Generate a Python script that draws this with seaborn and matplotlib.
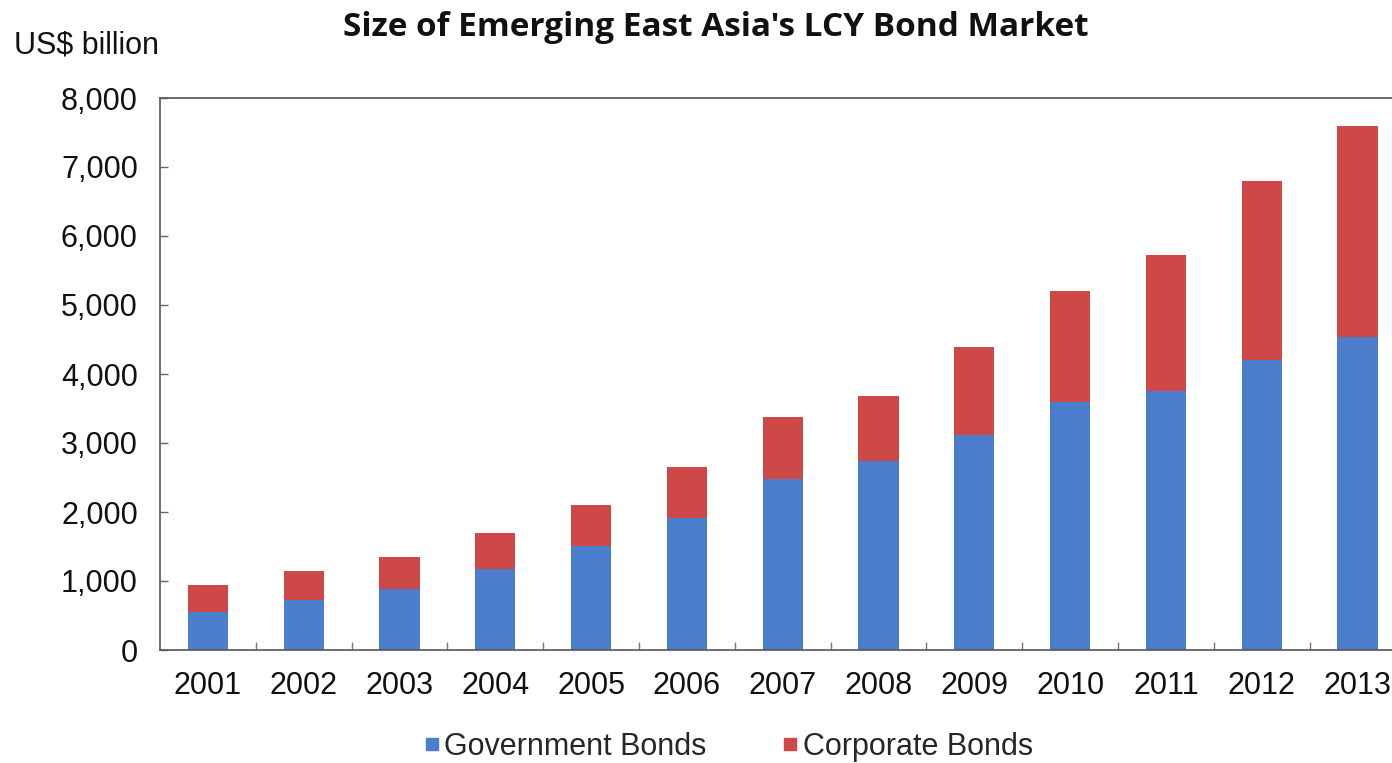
import matplotlib
matplotlib.use("Agg")
import matplotlib.pyplot as plt
from matplotlib.lines import Line2D
from matplotlib.ticker import FuncFormatter, FixedLocator
import seaborn as sns
import pandas as pd
import numpy as np

# Local-currency bond market size, US$ billion
years = ["2001", "2002", "2003", "2004", "2005", "2006", "2007",
         "2008", "2009", "2010", "2011", "2012", "2013"]
government = [550, 725, 888, 1178, 1507, 1918, 2473, 2739, 3110, 3590, 3755, 4200, 4543]
corporate = [390, 425, 455, 522, 593, 739, 909, 942, 1280, 1607, 1970, 2590, 3057]

df = pd.DataFrame({"year": years, "gov": government, "corp": corporate})
df["total"] = df["gov"] + df["corp"]

BLUE = "#4A7ECC"
RED = "#CE4848"

sns.set_theme(style="white")
plt.rcParams["font.family"] = ["Liberation Sans", "DejaVu Sans"]

fig = plt.figure(figsize=(13.92, 7.63), dpi=100)
ax = fig.add_axes([160 / 1392, 1 - 650 / 763, 1 - 160 / 1392, (650 - 98) / 763])

# Stacked bars: full height in red, government share drawn on top in blue
sns.barplot(data=df, x="year", y="total", color=RED, saturation=1,
            width=0.42, ax=ax, linewidth=0)
sns.barplot(data=df, x="year", y="gov", color=BLUE, saturation=1,
            width=0.42, ax=ax, linewidth=0)

ax.set_xlim(-0.5, 12.36)
ax.set_ylim(0, 8000)
ax.set_yticks(np.arange(0, 8001, 1000))
ax.yaxis.set_major_formatter(FuncFormatter(lambda v, p: f"{int(v):,}"))
ax.set_xlabel("")
ax.set_ylabel("")

for side in ["left", "bottom", "top"]:
    ax.spines[side].set_visible(True)
    ax.spines[side].set_color("#555555")
    ax.spines[side].set_linewidth(1.2)
ax.spines["right"].set_visible(False)

ax.tick_params(axis="y", which="major", direction="in", length=6, width=1,
               color="#666666", labelsize=22, pad=16, left=True)
ax.tick_params(axis="x", which="major", length=0, labelsize=22, pad=15)
ax.xaxis.set_minor_locator(FixedLocator(np.arange(0.5, 12, 1.0)))
ax.tick_params(axis="x", which="minor", direction="in", length=6, width=1,
               color="#777777", bottom=True)
for lbl in ax.get_xticklabels() + ax.get_yticklabels():
    lbl.set_color("#111111")

fig.text(716 / 1392, 1 - 28 / 763, "Size of Emerging East Asia's LCY Bond Market",
         ha="center", va="center", fontsize=24, fontweight="bold",
         family=["Open Sans", "DejaVu Sans"], color="#111111")
fig.text(14 / 1392, 1 - 45 / 763, "US$ billion", ha="left", va="center",
         fontsize=22, color="#111111")

handles = [
    Line2D([], [], marker="s", linestyle="none", markersize=9,
           markerfacecolor=BLUE, markeredgecolor=BLUE),
    Line2D([], [], marker="s", linestyle="none", markersize=9,
           markerfacecolor=RED, markeredgecolor=RED),
]
fig.legend(handles, ["Government Bonds", "Corporate Bonds"],
           loc="center", bbox_to_anchor=(727 / 1392, 1 - 747 / 763),
           ncol=2, frameon=False, fontsize=22, handletextpad=0.05,
           columnspacing=2.4, handlelength=0.7)

fig.savefig("out.png", dpi=100)
